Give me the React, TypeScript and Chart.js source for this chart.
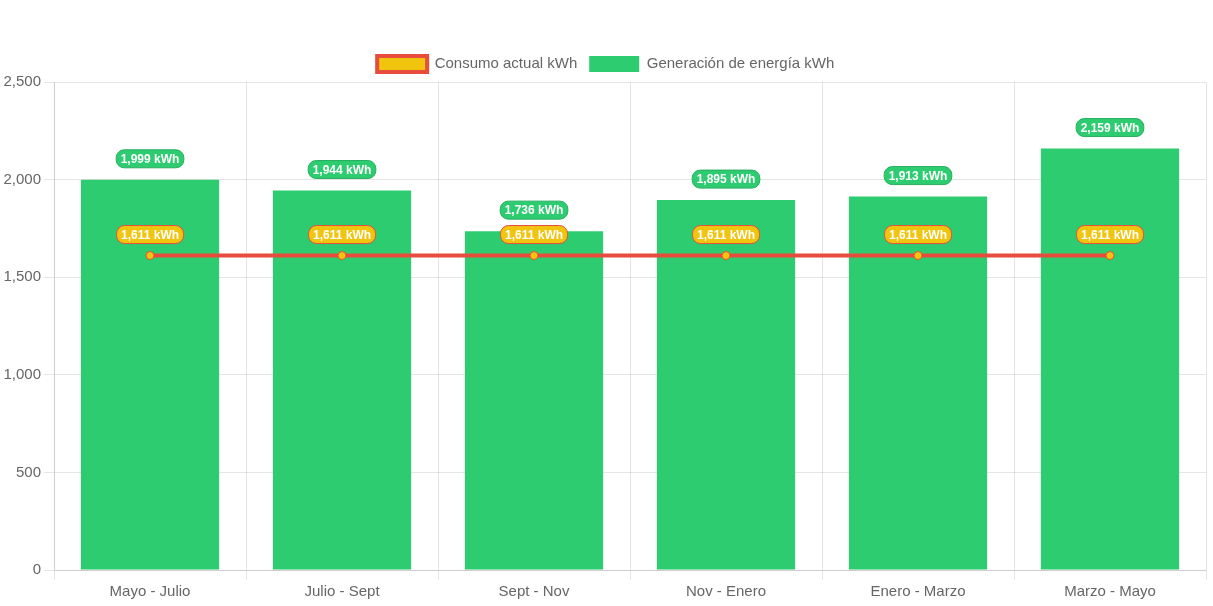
import React, { useEffect, useRef } from "react";
import { Chart, registerables } from "chart.js";

Chart.register(...registerables);

const categories = ["Mayo - Julio", "Julio - Sept", "Sept - Nov", "Nov - Enero", "Enero - Marzo", "Marzo - Mayo"];
const consumo = [1611, 1611, 1611, 1611, 1611, 1611];
const generacion = [1999, 1944, 1736, 1895, 1913, 2159];
const yTicks = { min: 0, max: 2500, step: 500 };

const FONT = "'Liberation Sans', Arial, Helvetica, sans-serif";

const labelPlugin = {
  id: "pillLabels",
  afterDatasetsDraw(chart: any) {
    const ctx = chart.ctx as CanvasRenderingContext2D;
    const styles = [
      { bg: "#f1c40f", border: "#e74c3c" },
      { bg: "#2ecc71", border: "#27ae60" },
    ];
    [1, 0].forEach((di) => {
      const meta = chart.getDatasetMeta(di);
      const data = chart.data.datasets[di].data as number[];
      meta.data.forEach((el: any, i: number) => {
        const text = data[i].toLocaleString("en-US") + " kWh";
        ctx.save();
        ctx.font = `bold 12px ${FONT}`;
        const w = ctx.measureText(text).width + 9;
        const h = 18;
        const cx = el.x;
        const cy = el.y - 21;
        const x = cx - w / 2;
        const y = cy - h / 2;
        ctx.beginPath();
        (ctx as any).roundRect(x, y, w, h, 8);
        ctx.fillStyle = styles[di].bg;
        ctx.fill();
        ctx.lineWidth = 1;
        ctx.strokeStyle = styles[di].border;
        ctx.stroke();
        ctx.fillStyle = "#ffffff";
        ctx.textAlign = "center";
        ctx.textBaseline = "middle";
        ctx.fillText(text, cx, cy + 1);
        ctx.restore();
      });
    });
  },
};

export default function App() {
  const ref = useRef<HTMLCanvasElement | null>(null);
  useEffect(() => {
    if (!ref.current) return;
    const chart = new Chart(ref.current, {
      type: "bar",
      data: {
        labels: categories,
        datasets: [
          {
            type: "line",
            label: "Consumo actual kWh",
            data: consumo,
            backgroundColor: "#f1c40f",
            borderColor: "#e74c3c",
            borderWidth: 4,
            pointBackgroundColor: "#f1c40f",
            pointBorderColor: "#e74c3c",
            pointBorderWidth: 1,
            pointRadius: 4,
            fill: false,
          } as any,
          {
            type: "bar",
            label: "Generación de energía kWh",
            data: generacion,
            backgroundColor: "#2ecc71",
            borderWidth: 0,
          },
        ],
      },
      options: {
        animation: false,
        responsive: true,
        maintainAspectRatio: false,
        layout: { padding: { top: 44, left: 0.5, bottom: 2, right: 0 } },
        plugins: {
          legend: {
            labels: {
              font: { family: FONT, size: 15 },
              color: "#666",
              boxWidth: 50,
              boxHeight: 16,
              padding: 12,
            },
          },
          tooltip: { enabled: false },
        },
        scales: {
          x: {
            grid: { tickLength: 10 },
            ticks: { font: { family: FONT, size: 15 }, color: "#666", padding: 3 },
          },
          y: {
            min: yTicks.min,
            max: yTicks.max,
            grid: { tickLength: 10 },
            ticks: { stepSize: yTicks.step, font: { family: FONT, size: 15 }, color: "#666", padding: 3 },
          },
        },
      },
      plugins: [labelPlugin],
    });
    return () => chart.destroy();
  }, []);
  return (
    <div style={{ position: "absolute", left: 0, top: 0, width: 1211, height: 606 }}>
      <canvas ref={ref} />
    </div>
  );
}
